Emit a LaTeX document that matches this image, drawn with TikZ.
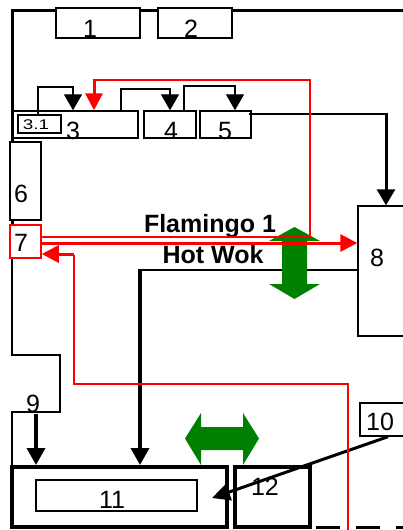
\documentclass[tikz,border=0pt]{standalone}
\usepackage{fontspec}
\setmainfont{Liberation Sans}
\usetikzlibrary{arrows.meta,fit}
\definecolor{wokgreen}{RGB}{0,128,0}
\definecolor{wokred}{RGB}{255,0,0}
\begin{document}
\begin{tikzpicture}[x=1pt,y=-1pt,
  box/.style={draw,fill=white,line width=1.4pt,inner sep=0pt},
  heavybox/.style={draw,line width=4pt,inner sep=0pt},
  lab/.style={inner sep=0pt,font=\fontsize{25}{30}\selectfont},
  smalllab/.style={inner sep=0pt,xscale=1.35,font=\fontsize{14}{16}\selectfont},
  boldlab/.style={inner sep=0pt,anchor=base,font=\fontsize{25}{30}\selectfont\bfseries},
  wall/.style={line width=3pt},
  lowwall/.style={line width=2pt},
  thinline/.style={line width=1.3pt},
  thinarrow/.style={line width=1.3pt,-{Triangle[width=18pt,length=16pt]}},
  heavyarrow/.style={line width=3.5pt,-{Triangle[width=18pt,length=17pt]}},
  redthin/.style={draw=wokred,line width=1.3pt},
  redthick/.style={draw=wokred,line width=3pt,-{Triangle[width=17pt,length=17pt]}},
]
\useasboundingbox (0,0) rectangle (403,530);

% walls
\draw[wall] (403,10) -- (12,10) -- (12,258);
\draw[lowwall] (12,257) -- (12,355) -- (60,355) -- (60,412) -- (12,412) -- (12,467);

% line from 8 toward 11 (under the green arrow)
\node[box, fit={(358,206) (410,336)}] (b8) {};
\draw[thinline] ([yshift=1pt]b8.west) -- (140,270);

% green arrows
\fill[wokgreen] (294.5,227) -- (320,241) -- (307,241) -- (307,284) -- (320,284)
  -- (294.5,299) -- (269,284) -- (282,284) -- (282,241) -- (269,241) -- cycle;
\fill[wokgreen] (185,438.5) -- (201,413) -- (201,427) -- (243,427) -- (243,413)
  -- (259,438.5) -- (243,465) -- (243,450) -- (201,450) -- (201,465) -- cycle;

% boxes
\node[box, fit={(56,8) (140,38)}] (b1) {};
\node[box, fit={(158,8) (232,38)}] (b2) {};
\node[box, fit={(13,111) (138,138)}] (b3) {};
\node[box, fit={(18,115) (61,133)}] (b31) {};
\node[box, fit={(144,111) (196,138)}] (b4) {};
\node[box, fit={(200,111) (251,138)}] (b5) {};
\node[box, fit={(10,142) (41,220)}] (b6) {};
\node[box, draw=wokred, line width=1.5pt, fit={(10,225) (41,258)}] (b7) {};
\node[box, fit={(360,403) (410,436)}] (b10) {};
\node[heavybox, fit={(12,467) (227,527)}] (b11) {};
\node[box, fit={(36,480) (197,511)}] (b11i) {};
\node[heavybox, fit={(235,467) (310,527)}] (b12) {};
\draw[line width=3pt, dash pattern=on 24pt off 16pt] (316,527.5) -- (425,527.5);

% labels
\node[lab] (l1) at (90,28.5) {1};
\node[lab] (l2) at (191,28.5) {2};
\node[lab] (l3) at (73,131) {3};
\node[smalllab] (l31) at (36,124.5) {3.1};
\node[lab] (l4) at (171,131) {4};
\node[lab] (l5) at (225,131) {5};
\node[lab] (l6) at (21,194) {6};
\node[lab] (l7) at (21,243) {7};
\node[lab] (l8) at (377,258) {8};
\node[lab] (n9) at (33,404) {9};
\node[lab] (l10) at (380,422) {10};
\node[lab] (l11) at (112,500) {11};
\node[lab] (l12) at (265,487) {12};
\node[boldlab] (fl) at (210,232) {Flamingo 1};
\node[boldlab] (hw) at (213,263) {Hot Wok};

% black connectors
\draw[thinarrow] ([xshift=-1.5pt]b31.north) -- (38,87) -- (73,87) -- ([xshift=-2.5pt]b3.north);
\draw[thinarrow] ([xshift=45.5pt]b3.north) -- (121,89) -- (170,89) -- (b4.north);
\draw[thinarrow] ([xshift=14pt]b4.north) -- (184,86) -- (235,86) -- ([xshift=9.5pt]b5.north);
\draw[thinline] ([yshift=10.5pt,xshift=-3pt]b5.east) -- (386,114);
\draw[line width=3pt,-{Triangle[width=18pt,length=16pt]}] (386,112.5) -- ([xshift=2pt]b8.north);
\draw[heavyarrow] (140,269) -- ([xshift=20.5pt]b11.north);
\draw[heavyarrow] ([xshift=3pt,yshift=-1pt]n9.south) -- ([xshift=-83.5pt]b11.north);
\draw[line width=3pt,-{Triangle[width=17pt,length=18pt]}] ([xshift=3pt]b10.south) -- ([xshift=-17pt,yshift=-1pt]b11.east);

% red connectors
\draw[redthin] ([yshift=4.5pt]b7.east) -- (310,237) -- (310,80) -- (94,80) -- (94,82);
\draw[redthick] (94,80) -- ([xshift=18.5pt]b3.north);
\draw[redthick] ([yshift=-1.5pt]b7.east) -- ([yshift=28pt]b8.west);
\coordinate (r0) at (348,532);
\draw[redthin] (r0) -- (348,384) -- (74,384) -- (74,255);
\draw[redthick] (74,254) -- ([yshift=-12.5pt]b7.east);
\end{tikzpicture}
\end{document}
